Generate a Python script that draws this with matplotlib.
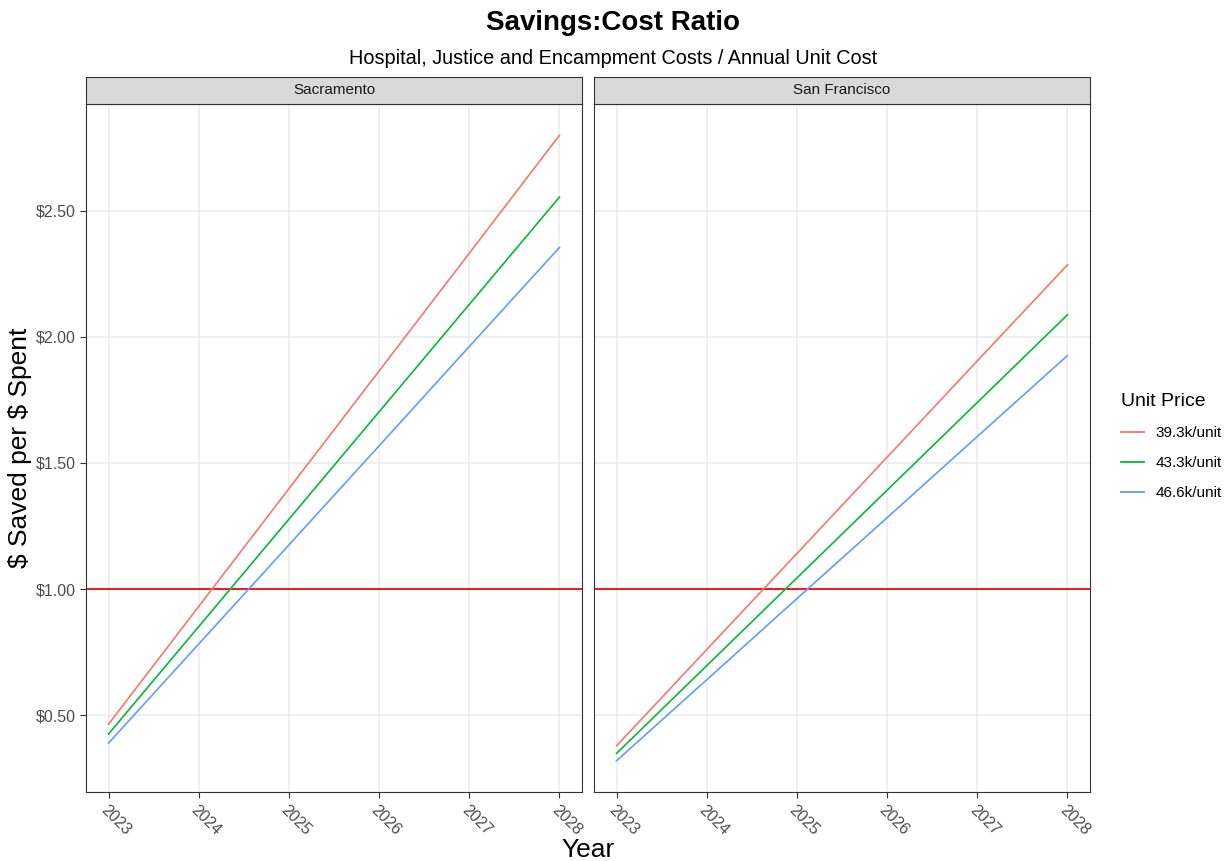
import matplotlib
matplotlib.use("Agg")
import matplotlib.pyplot as plt
from matplotlib.lines import Line2D

plt.rcParams["font.family"] = ["Liberation Sans", "DejaVu Sans"]

years = [2023, 2024, 2025, 2026, 2027, 2028]
cities = ["Sacramento", "San Francisco"]
price_labels = ["39.3k/unit", "43.3k/unit", "46.6k/unit"]
colors = ["#F8766D", "#00BA38", "#619CFF"]

# $ saved per $ spent
sacramento = [
    [0.464, 0.931, 1.398, 1.865, 2.332, 2.800],
    [0.425, 0.851, 1.277, 1.703, 2.129, 2.555],
    [0.389, 0.782, 1.175, 1.568, 1.962, 2.355],
]
san_francisco = [
    [0.378, 0.760, 1.141, 1.523, 1.905, 2.286],
    [0.348, 0.696, 1.044, 1.392, 1.740, 2.088],
    [0.319, 0.640, 0.962, 1.283, 1.605, 1.926],
]
break_even = 1.0
y_ticks = [0.5, 1.0, 1.5, 2.0, 2.5]

W, H = 1227, 861
fig = plt.figure(figsize=(W / 100, H / 100), dpi=100)

panel_left = [86, 594]
panel_w = 496
panel_top, panel_bot = 104, 792
strip_top = 77

all_vals = [v for s in sacramento + san_francisco for v in s]
ymin, ymax = min(all_vals), max(all_vals)
ypad = (ymax - ymin) * 0.05
xpad = (years[-1] - years[0]) * 0.05

for i, (city, data) in enumerate(zip(cities, [sacramento, san_francisco])):
    x0 = panel_left[i]
    ax = fig.add_axes([x0 / W, 1 - panel_bot / H, panel_w / W, (panel_bot - panel_top) / H])
    ax.set_xlim(years[0] - xpad, years[-1] + xpad)
    ax.set_ylim(ymin - ypad, ymax + ypad)
    ax.set_xticks(years)
    ax.set_yticks(y_ticks)
    ax.grid(True, color="#EBEBEB", linewidth=1.1)
    ax.set_axisbelow(True)
    for sp in ax.spines.values():
        sp.set_color("#333333")
        sp.set_linewidth(0.8)
    ax.tick_params(colors="#333333", labelcolor="#4D4D4D", labelsize=11.5, length=4, width=0.8)
    ax.set_xticklabels([str(y) for y in years], rotation=-45, ha="left", va="top",
                       rotation_mode="anchor")
    if i == 0:
        ax.set_yticklabels([r"\$%.2f" % t for t in y_ticks])
    else:
        ax.tick_params(axis="y", labelleft=False, length=0)

    ax.axhline(break_even, color="red", linewidth=1.3, zorder=2)
    for series, c in zip(data, colors):
        ax.plot(years, series, color=c, linewidth=1.2, zorder=3)

    # facet strip
    sax = fig.add_axes([x0 / W, 1 - panel_top / H, panel_w / W, (panel_top - strip_top) / H])
    sax.set_xticks([])
    sax.set_yticks([])
    sax.set_facecolor("#D9D9D9")
    for sp in sax.spines.values():
        sp.set_color("#333333")
        sp.set_linewidth(0.8)
    sax.text(0.5, 0.5, city, ha="center", va="center", fontsize=11, color="#1A1A1A",
             transform=sax.transAxes)

fig.text(0.5, 1 - 23 / H, "Savings:Cost Ratio", ha="center", va="center",
         fontsize=20, fontweight="bold")
fig.text(0.5, 1 - 58 / H, "Hospital, Justice and Encampment Costs / Annual Unit Cost",
         ha="center", va="center", fontsize=14.3)
fig.text((panel_left[0] + panel_left[1] + panel_w) / 2 / W, 1 - 850 / H, "Year",
         ha="center", va="center", fontsize=19)
fig.text(20 / W, 1 - (panel_top + panel_bot) / 2 / H, r"\$ Saved per \$ Spent",
         ha="center", va="center", rotation=90, fontsize=19)

handles = [Line2D([], [], color=c, linewidth=1.3) for c in colors]
fig.legend(handles, price_labels, loc="upper left",
           bbox_to_anchor=(1121 / W, 1 - 393 / H), frameon=False,
           borderpad=0, borderaxespad=0,
           title="Unit Price", title_fontsize=14, fontsize=11,
           handlelength=1.5, handletextpad=0.75, labelspacing=1.05, alignment="left")

fig.savefig("out.png", dpi=100)
